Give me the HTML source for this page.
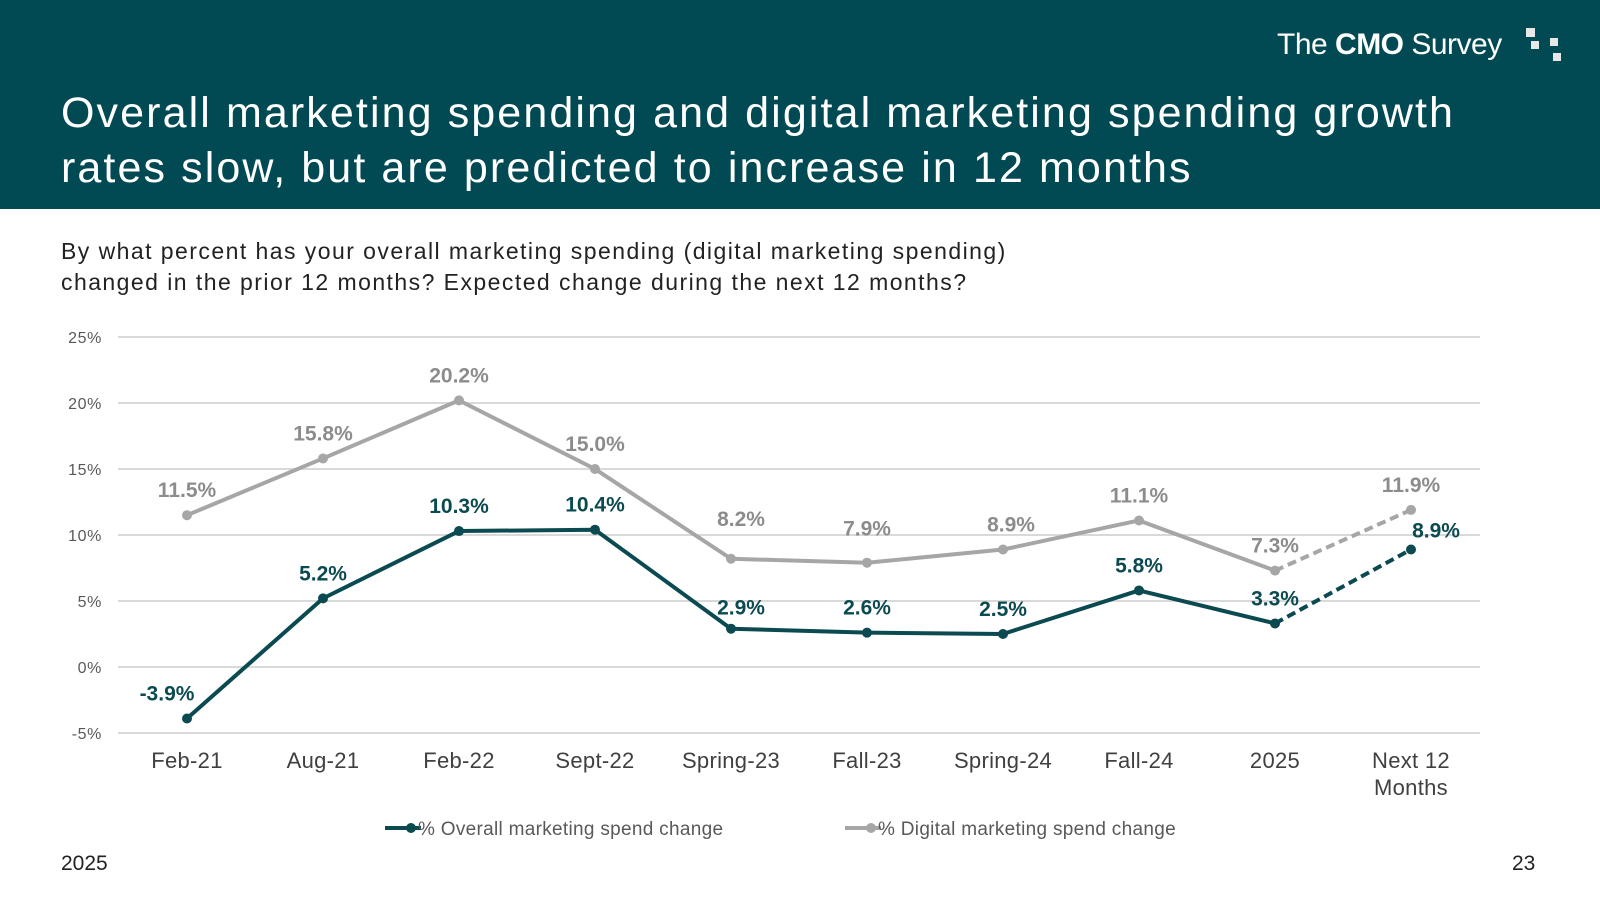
<!DOCTYPE html>
<html><head><meta charset="utf-8"><style>
body{margin:0;width:1600px;height:900px;overflow:hidden;background:#fff;font-family:"Liberation Sans",sans-serif;}
#hdr{position:absolute;left:0;top:0;width:1600px;height:209px;background:#024a53;}
#title{position:absolute;left:61px;top:86px;color:#fff;font-size:43px;line-height:55px;letter-spacing:2.1px;white-space:nowrap;}
#logo{position:absolute;left:1277px;top:28px;color:#fff;font-size:30px;letter-spacing:-0.5px;}
.sq{position:absolute;background:#e8e8e8;}
#sub{position:absolute;left:61px;top:236px;font-size:23px;line-height:31px;color:#222;letter-spacing:1.45px;white-space:nowrap;}
.foot{position:absolute;top:852px;font-size:21px;color:#222;}
</style></head><body>
<div id="hdr">
<div id="logo"><span style="font-weight:300">The </span><b>CMO</b><span style="font-weight:300"> Survey</span></div>
<div class="sq" style="left:1526px;top:28px;width:9px;height:9px"></div>
<div class="sq" style="left:1531px;top:41px;width:8px;height:8px"></div>
<div class="sq" style="left:1550px;top:38px;width:8px;height:8px"></div>
<div class="sq" style="left:1553px;top:53px;width:8px;height:8px"></div>
<div id="title">Overall marketing spending and digital marketing spending growth<br>rates slow, but are predicted to increase in 12 months</div>
</div>
<div id="sub">By what percent has your overall marketing spending (digital marketing spending)<br>changed in the prior 12 months? Expected change during the next 12 months?</div>
<svg id="chart" width="1600" height="900" style="position:absolute;left:0;top:0"></svg>
<div class="foot" style="left:61px">2025</div>
<div class="foot" style="left:1512px">23</div>
<script>
const categories=["Feb-21","Aug-21","Feb-22","Sept-22","Spring-23","Fall-23","Spring-24","Fall-24","2025","Next 12|Months"];
const overall=[-3.9,5.2,10.3,10.4,2.9,2.6,2.5,5.8,3.3,8.9];
const digital=[11.5,15.8,20.2,15.0,8.2,7.9,8.9,11.1,7.3,11.9];
const yTicks=[-5,0,5,10,15,20,25];
const NS="http://www.w3.org/2000/svg";
const svg=document.getElementById('chart');
const x0=187,dx=136,yTop=337,yBot=733,yMin=-5,yMax=25;
const X=i=>x0+i*dx;
const Y=v=>yBot-(v-yMin)/(yMax-yMin)*(yBot-yTop);
function mk(t,a){const e=document.createElementNS(NS,t);for(const k in a)e.setAttribute(k,a[k]);svg.appendChild(e);return e;}
yTicks.forEach(v=>{
 const l=mk('line',{x1:118,x2:1480,y1:Y(v),y2:Y(v),stroke:'#d9d9d9','stroke-width':2});
 
 
 const t=mk('text',{x:102,y:Y(v)+6,'text-anchor':'end','font-size':16,fill:'#595959','letter-spacing':'0.6'});
 t.textContent=v+'%';
 
 
});
categories.forEach((c,i)=>{
 c.split('|').forEach((s,j)=>{
  const t=mk('text',{x:X(i),y:768+j*27,'text-anchor':'middle','font-size':22,fill:'#404040','letter-spacing':'0.3'});
  t.textContent=s;
  
  
 });
});
function series(vals,color,name,lblColor,offs){
 const n=vals.length;
 let d='';for(let i=0;i<n-1;i++)d+=(i?'L':'M')+X(i)+' '+Y(vals[i]);
 const p=mk('path',{d:d,fill:'none',stroke:color,'stroke-width':4,'stroke-linejoin':'round'});
 
 
 const dp=mk('path',{d:'M'+X(n-2)+' '+Y(vals[n-2])+'L'+X(n-1)+' '+Y(vals[n-1]),stroke:color,'stroke-width':4,'stroke-dasharray':'9 5',fill:'none'});
 
 
 vals.forEach((v,i)=>{
  const c=mk('circle',{cx:X(i),cy:Y(v),r:5,fill:color});
  
  
  const o=offs(i);
  const t=mk('text',{x:X(i)+o[0],y:Y(v)+o[1],'text-anchor':'middle','font-size':21,'font-weight':'bold',fill:lblColor});
  t.textContent=v.toFixed(1)+'%';
  
  
 });
}
series(digital,'#a6a6a6','digital','#8c8c8c',i=>i==4?[10,-33]:i==5?[0,-27]:i==6?[8,-18]:[0,-18]);
series(overall,'#0b4a50','overall','#0b4a50',i=>i==0?[-20,-18]:i==9?[25,-12]:i==4?[10,-14]:i==7?[0,-18]:[0,-18]);
[[385,'#0b4a50','% Overall marketing spend change','legend-overall'],[845,'#a6a6a6','% Digital marketing spend change','legend-digital']].forEach(L=>{
 const l=mk('line',{x1:L[0],x2:L[0]+36,y1:828,y2:828,stroke:L[1],'stroke-width':4});
 
 
 const c=mk('circle',{cx:L[0]+26,cy:828,r:5,fill:L[1]});
 
 
 const t=mk('text',{x:L[0]+33,y:835,'font-size':19,fill:'#595959','letter-spacing':'0.3'});
 t.textContent=L[2];
 
 
});
</script>
</body></html>
